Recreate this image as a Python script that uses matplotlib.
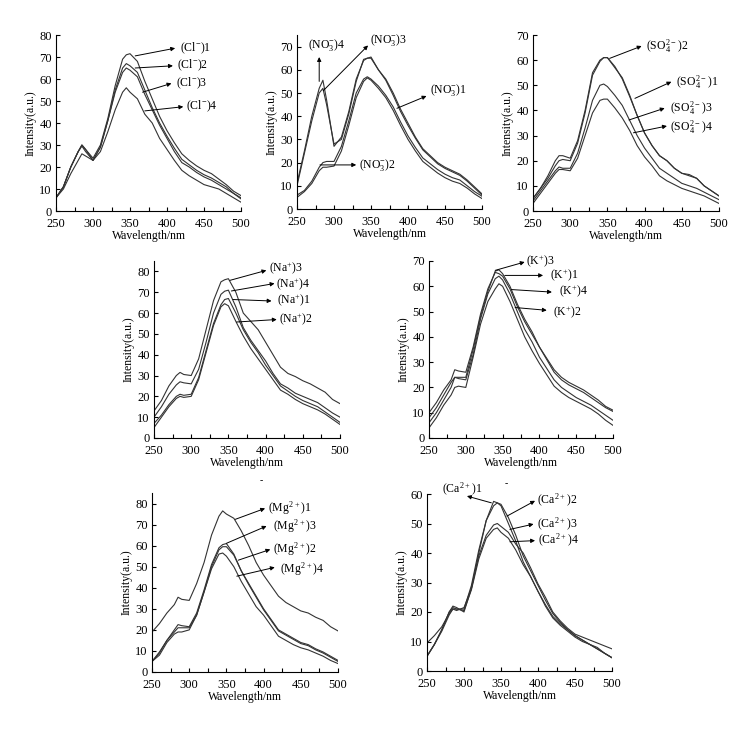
import matplotlib
matplotlib.use('Agg')
import matplotlib.pyplot as plt
from matplotlib.ticker import MultipleLocator

plt.rcParams['font.family'] = ['Liberation Serif', 'DejaVu Serif']
plt.rcParams['mathtext.default'] = 'regular'
plt.rcParams['font.size'] = 9

# wavelength grid (nm)
wl = [250, 260, 270, 280, 285, 290, 300, 310, 320, 330, 340, 345, 350, 360,
      370, 380, 390, 400, 410, 420, 430, 440, 450, 460, 470, 480, 490, 500]

# Cl-
cl1 = [6, 11, 20, 27, 30, 28, 24, 30, 42, 57, 69, 71, 71.5, 68, 59, 51, 43, 36.5, 31, 26, 23, 20.5, 18.5, 17, 14.5, 12, 9, 7]
cl2 = [6, 11, 20, 27, 30, 28, 23, 29, 41, 55, 65, 67, 66, 63, 55, 47, 40, 34, 28.5, 23.5, 21, 18.5, 16.5, 15, 13, 11, 8, 6]
cl3 = [6, 11, 20, 27, 29.5, 27, 23, 29, 41, 54, 63, 65, 64, 61, 53, 46, 39, 33, 27, 22, 20, 17.5, 15.5, 14, 12, 10, 8, 5.5]
cl4 = [6, 10, 17, 23, 26, 25, 23, 27, 36, 46, 54, 56, 54, 51, 44, 40, 33, 28, 23, 18.5, 16, 14, 12, 11, 10, 8, 6, 4]

# NO3-
no1 = [6, 8, 12, 18, 20, 20.5, 20.5, 27, 38, 50, 56, 57, 56, 53, 49, 44, 37.5, 31.5, 26.5, 22, 19.5, 17, 15, 13.5, 12.5, 10, 7.5, 5.5]
no2 = [5, 7.5, 11, 16.5, 18, 18, 18.5, 25, 36, 48, 55, 56.5, 55.5, 52, 48, 42.5, 36, 30, 25, 20.5, 18, 15.5, 13.5, 12, 11, 9, 6.5, 4.5]
no3 = [10, 24, 38, 50, 52, 45, 28, 30, 41, 55, 64.5, 65, 65, 60, 55.5, 49, 42, 36, 30.5, 25.5, 22.5, 19.5, 17.5, 16, 14.5, 12, 9, 6]
no4 = [11, 25, 40, 52, 55.5, 47, 27, 31, 42, 56, 64, 65, 65.5, 60, 56, 50, 43, 37, 31, 26, 23, 20, 18, 16.5, 15, 12.5, 9.5, 6.5]

# SO4 2-
so1 = [5, 9, 14, 20, 22, 22, 21, 28, 40, 55, 60, 61, 61, 57, 53, 46, 38, 31, 26, 22, 20, 17, 15, 14.5, 13, 10, 8, 6]
so2 = [5, 9, 13, 18, 20, 20.5, 20, 27, 39, 54, 59.5, 61, 61, 57.5, 52.5, 45.5, 38, 31, 26, 22, 20, 17, 15, 14, 13, 10, 8, 6]
so3 = [4, 8, 12, 16, 17.5, 17, 17, 23, 33, 44, 50, 50.5, 49.5, 46, 42, 36, 30, 25, 21, 17, 15, 13, 11, 10, 9, 7.5, 6, 4.5]
so4 = [3, 7, 11, 15, 16.5, 16.5, 16, 21, 30, 39, 44, 44.5, 44.5, 41, 37, 32, 26, 21.5, 18, 14, 12, 10.5, 9, 8, 7, 6, 4.5, 3]

# Na+
na1 = [7, 11, 16, 20, 21, 20.5, 21, 29, 42, 55, 64, 66.5, 67, 60, 52, 46, 41, 35, 30, 25, 22.5, 20, 18, 16.5, 15, 12.5, 10, 7.5]
na2 = [5, 10, 15, 19, 20, 19.5, 20, 28, 41, 54, 63, 64.5, 63.5, 56, 49, 43, 38, 33, 28, 23, 21, 18.5, 16.5, 15, 13.5, 11.5, 9, 6.5]
na3 = [13, 18, 25, 30, 31.5, 30.5, 30, 38, 52, 66, 75, 76, 76.5, 70, 60, 56, 52, 46, 40, 34, 31, 29.5, 27.5, 26, 24, 22, 18.5, 16.5]
na4 = [10, 15, 21, 25.5, 27, 26.5, 26, 33, 46, 60, 69, 70.5, 71, 63, 53, 47, 42, 37, 31, 26, 24, 21.5, 20, 18.5, 17, 14.5, 12, 10]

# K+
k1 = [10, 14, 19, 23, 27, 26.5, 26, 36, 49, 59, 65.5, 65, 64, 59, 52, 46, 41, 36, 31.5, 27, 24, 22, 20.5, 19, 17, 15, 12.5, 11]
k2 = [4, 8, 13, 17, 20, 20.5, 20, 32, 45, 54, 59, 61, 60, 54, 47, 40, 34.5, 29.5, 25, 20.5, 18, 16, 14.5, 13, 11.5, 9.5, 7, 5]
k3 = [8, 12, 17, 22, 24, 24, 24, 35, 48, 58, 66, 66.5, 65, 60, 53, 47, 42, 36, 31, 26, 23, 21, 19.5, 18, 16, 14, 12, 10.5]
k4 = [6, 10, 15, 20, 24, 23.5, 23, 33, 47, 57, 63, 64, 62.5, 57, 50, 43, 38, 32, 27.5, 23, 20, 18, 16, 14.5, 13, 11, 9, 7]

# Mg2+
mg1 = [19, 23, 28, 32, 35.5, 34.5, 34, 42, 52, 65, 74, 76.5, 75, 73, 67, 60, 52, 46, 41, 36, 33, 31, 29, 28, 26, 24.5, 21.5, 19.5]
mg2 = [5, 9.5, 15, 19, 21, 21, 21, 27, 38, 50, 58, 59.5, 59.5, 55.5, 48, 41.5, 35.5, 29.5, 24.5, 19.5, 17.5, 15.5, 13.5, 12.5, 10.5, 9, 7, 5]
mg3 = [5, 9, 15, 20, 22.5, 22, 21.5, 28, 39, 51, 59, 60.5, 61, 56, 48, 42, 36, 30, 25, 20, 18, 16, 14, 13, 11, 9.5, 7.5, 5.5]
mg4 = [5, 8, 14, 18, 19, 19, 20, 27, 38, 49, 56, 56.5, 55, 50, 43, 37, 31, 27, 22, 17, 15, 13, 11.5, 10.5, 9, 7.5, 5.5, 4]

# Ca2+
ca1 = [5, 9, 14, 20, 22, 21.5, 20, 28, 40, 51, 57.5, 57, 56, 50, 44, 37, 32, 27, 22.5, 18.5, 16, 14, 12, 10.5, 9, 8, 6, 4.5]
ca2 = [5, 9, 14, 20, 21.5, 21, 21, 29, 41, 51, 56, 57, 56.5, 52, 46, 39, 34, 29, 24, 19.5, 16.5, 14, 12, 10.5, 9, 7.5, 6, 4.5]
ca3 = [9.5, 12, 15, 19.5, 21, 20.5, 21.5, 28, 39, 46, 49.5, 50, 49, 47, 43, 40, 35, 29.5, 25, 20, 17, 14.5, 12.5, 11.5, 10.5, 9.5, 8.5, 7.5]
ca4 = [5, 9, 13.5, 19, 21, 21, 20.5, 27.5, 38, 45, 48, 48.5, 47, 45, 41, 36, 32, 27, 22, 18, 15.5, 13.5, 11.5, 10, 9, 7.5, 6, 4.5]

W, H = 744, 730
fig = plt.figure(figsize=(W / 100, H / 100), dpi=100)


def make_ax(x0, x1, y_top, y_bot):
    return fig.add_axes([x0 / W, 1 - y_bot / H, (x1 - x0) / W, (y_bot - y_top) / H])


def style(ax, ymax, ystep=10):
    ax.set_xlim(250, 500)
    ax.set_ylim(0, ymax)
    ax.spines['top'].set_visible(False)
    ax.spines['right'].set_visible(False)
    ax.xaxis.set_major_locator(MultipleLocator(50))
    ax.xaxis.set_minor_locator(MultipleLocator(25))
    ax.yaxis.set_major_locator(MultipleLocator(ystep))
    ax.tick_params(direction='in', length=3, width=0.8, labelsize=9)
    ax.tick_params(axis='x', pad=5)
    ax.tick_params(axis='y', pad=3)
    ax.tick_params(which='minor', direction='in', length=3, width=0.8)
    ax.set_xlabel('Wavelength/nm', fontsize=8.5, labelpad=0)
    ax.set_ylabel('Intensity(a.u.)', fontsize=8.5, labelpad=2)


def curves(ax, ys):
    for y in ys:
        ax.plot(wl, y, color='#333333', lw=0.8)


def label(ax, text, tail, head, txt, ha='left'):
    ax.annotate('', xy=head, xytext=tail, annotation_clip=False,
                arrowprops=dict(arrowstyle='-|>', color='black', lw=0.7,
                                mutation_scale=6, shrinkA=0, shrinkB=0))
    ax.text(txt[0], txt[1], text, ha=ha, va='center', fontsize=8.5, clip_on=False)


# row 1
ax = make_ax(56, 241, 35, 211)
curves(ax, [cl1, cl2, cl3, cl4])
style(ax, 80)
label(ax, '(Cl$^{-}$)1', (357, 70.5), (411, 74), (417, 74))
label(ax, '(Cl$^{-}$)2', (357, 65), (408, 66), (414, 66.4))
label(ax, '(Cl$^{-}$)3', (367, 54), (406, 58), (412, 58))
label(ax, '(Cl$^{-}$)4', (370, 45.5), (422, 47.4), (425, 47.4))

ax = make_ax(297, 482, 35, 209)
curves(ax, [no1, no2, no3, no4])
style(ax, 75)
label(ax, '(NO$_3^{-}$)4', (280, 55), (280, 65.5), (265, 70.5))
label(ax, '(NO$_3^{-}$)3', (285.5, 51), (346, 70.5), (349, 72.7))
label(ax, '(NO$_3^{-}$)1', (385, 43.4), (425, 48.7), (430, 51.3))
label(ax, '(NO$_3^{-}$)2', (281, 19), (330, 19), (334, 19))

ax = make_ax(533, 719, 35, 211)
curves(ax, [so1, so2, so3, so4])
style(ax, 70)
label(ax, '(SO$_4^{2-}$)2', (353, 60.7), (396, 65.6), (402, 65.6))
label(ax, '(SO$_4^{2-}$)1', (387, 44.8), (436, 51.4), (442, 51.4))
label(ax, '(SO$_4^{2-}$)3', (379, 36.2), (427, 40.9), (434, 40.9))
label(ax, '(SO$_4^{2-}$)4', (385, 31.1), (430, 33.8), (434, 33.5))

# row 2
ax = make_ax(154, 340, 261, 438)
curves(ax, [na1, na2, na3, na4])
style(ax, 85)
label(ax, '(Na$^{+}$)3', (352, 75.7), (401, 80.5), (405, 81.4))
label(ax, '(Na$^{+}$)4', (354, 70.6), (412, 74.2), (414, 73.5))
label(ax, '(Na$^{+}$)1', (356, 66.5), (408, 65.8), (415, 65.8))
label(ax, '(Na$^{+}$)2', (361, 55.7), (415, 56.9), (418, 56.5))

ax = make_ax(429, 613, 261, 438)
curves(ax, [k1, k2, k3, k4])
style(ax, 70)
label(ax, '(K$^{+}$)3', (340, 66.3), (380, 69.6), (382, 69.6))
label(ax, '(K$^{+}$)1', (353, 64.3), (405, 64.3), (414, 64.3))
label(ax, '(K$^{+}$)4', (362, 58.7), (417, 57.7), (427, 57.7))
label(ax, '(K$^{+}$)2', (367, 51.6), (410, 50.5), (418, 49.5))

# row 3
ax = make_ax(152, 338, 493, 672)
curves(ax, [mg1, mg2, mg3, mg4])
style(ax, 85)
label(ax, '(Mg$^{2+}$)1', (362, 72.5), (402, 77.7), (406, 77.7))
label(ax, '(Mg$^{2+}$)3', (350, 61.1), (404, 69.3), (413, 69.3))
label(ax, '(Mg$^{2+}$)2', (366, 53.1), (409, 58.2), (413, 58.2))
label(ax, '(Mg$^{2+}$)4', (364, 45.5), (415, 49.7), (422, 48.7))

ax = make_ax(427, 612, 494, 671)
curves(ax, [ca1, ca2, ca3, ca4])
style(ax, 60)
label(ax, '(Ca$^{2+}$)1', (337, 57), (304, 59.3), (270, 61.6))
label(ax, '(Ca$^{2+}$)2', (358, 52.5), (396, 57.7), (398, 57.7))
label(ax, '(Ca$^{2+}$)3', (362, 48), (394, 49.8), (398, 49.8))
label(ax, '(Ca$^{2+}$)4', (362, 43.8), (396, 44.2), (400, 44.2))

fig.text(261 / W, 1 - 481 / H, '-', fontsize=7, ha='center', va='center')
fig.text(506 / W, 1 - 484 / H, '-', fontsize=7, ha='center', va='center')

fig.savefig('out.png', dpi=100)
